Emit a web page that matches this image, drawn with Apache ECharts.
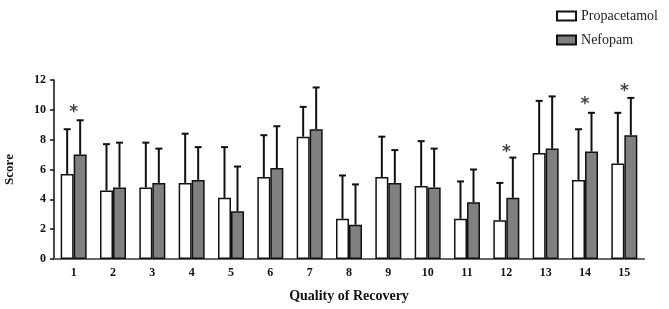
<!DOCTYPE html>
<html>
<head>
<meta charset="utf-8">
<script src="https://cdn.jsdelivr.net/npm/echarts@6/dist/echarts.min.js"></script>
<style>
  html, body { margin: 0; padding: 0; background: #fff; }
  #chart { width: 669px; height: 309px; }
</style>
</head>
<body>
<div id="chart"></div>
<script>
var categories = ['1', '2', '3', '4', '5', '6', '7', '8', '9', '10', '11', '12', '13', '14', '15']
var propMean = [5.7, 4.6, 4.8, 5.1, 4.1, 5.5, 8.2, 2.7, 5.5, 4.9, 2.7, 2.6, 7.1, 5.3, 6.4]
var propUpper = [8.7, 7.7, 7.8, 8.4, 7.5, 8.3, 10.2, 5.6, 8.2, 7.9, 5.2, 5.1, 10.6, 8.7, 9.8]
var nefoMean = [7.0, 4.8, 5.1, 5.3, 3.2, 6.1, 8.7, 2.3, 5.1, 4.8, 3.8, 4.1, 7.4, 7.2, 8.3]
var nefoUpper = [9.3, 7.8, 7.4, 7.5, 6.2, 8.9, 11.5, 5.0, 7.3, 7.4, 6.0, 6.8, 10.9, 9.8, 10.8]
var starCats = ['1', '12', '14', '15']
var starY = [10.1, 7.4, 10.6, 11.5]

var font = 'Liberation Serif'
var barW = 13

// error bar: stem from mean to upper, short cap on top
function errorSeries(means, uppers, shift) {
  return {
    type: 'custom',
    silent: true,
    z: 1,
    renderItem: function(params, api) {
      var i = api.value(0)
      var base = api.coord([i, api.value(1)])
      var top = api.coord([i, api.value(2)])
      var x = base[0] + shift
      var st = { stroke: '#111', lineWidth: 2 }
      return {
        type: 'group',
        children: [
          { type: 'line', shape: { x1: x, y1: base[1], x2: x, y2: top[1] }, style: st },
          { type: 'line', shape: { x1: x - 3.5, y1: top[1], x2: x + 3.5, y2: top[1] }, style: st }
        ]
      }
    },
    data: means.map(function(m, i) { return [i, m, uppers[i]] })
  }
}

var chart = echarts.init(document.getElementById('chart'))
chart.setOption({
  animation: false,
  backgroundColor: '#fff',
  grid: { left: 54, right: 25, top: 80, bottom: 50, outerBoundsMode: 'none' },
  legend: {
    orient: 'vertical',
    right: 6,
    top: 4,
    icon: 'rect',
    itemWidth: 19,
    itemHeight: 9,
    itemGap: 10,
    textStyle: { fontFamily: font, fontSize: 14, color: '#222' },
    data: ['Propacetamol', 'Nefopam']
  },
  xAxis: {
    type: 'category',
    data: categories,
    name: 'Quality of Recovery',
    nameLocation: 'middle',
    nameGap: 30,
    nameTextStyle: { fontFamily: font, fontWeight: 'bold', fontSize: 14, color: '#111' },
    axisLine: { lineStyle: { color: '#666', width: 2 } },
    axisTick: { alignWithLabel: true, length: 5, lineStyle: { color: '#333', width: 1.5 } },
    axisLabel: { fontFamily: font, fontWeight: 'bold', fontSize: 12, color: '#111', margin: 8 }
  },
  yAxis: {
    type: 'value',
    min: 0,
    max: 12,
    interval: 2,
    name: 'Score',
    nameLocation: 'middle',
    nameGap: 38,
    nameTextStyle: { fontFamily: font, fontWeight: 'bold', fontSize: 13, color: '#111' },
    axisLine: { show: true, lineStyle: { color: '#111', width: 1.5 } },
    axisTick: { show: true, length: 4, lineStyle: { color: '#111', width: 1.5 } },
    axisLabel: { fontFamily: font, fontWeight: 'bold', fontSize: 12, color: '#111', margin: 8 },
    splitLine: { show: false }
  },
  series: [
    {
      name: 'Propacetamol',
      type: 'bar',
      barWidth: barW,
      barGap: '0%',
      z: 2,
      itemStyle: { color: '#fff', borderColor: '#111', borderWidth: 1.5 },
      data: propMean
    },
    {
      name: 'Nefopam',
      type: 'bar',
      barWidth: barW,
      barGap: '0%',
      z: 2,
      itemStyle: { color: '#808080', borderColor: '#111', borderWidth: 1.5 },
      data: nefoMean
    },
    errorSeries(propMean, propUpper, -barW / 2),
    errorSeries(nefoMean, nefoUpper, barW / 2),
    {
      type: 'scatter',
      silent: true,
      symbolSize: 0,
      label: {
        show: true,
        position: 'inside',
        offset: [0, 4],
        formatter: '*',
        fontFamily: 'DejaVu Sans',
        fontWeight: 'bold',
        fontSize: 17,
        color: '#111'
      },
      data: starCats.map(function(c, i) { return [c, starY[i]] })
    }
  ]
})
</script>
</body>
</html>
